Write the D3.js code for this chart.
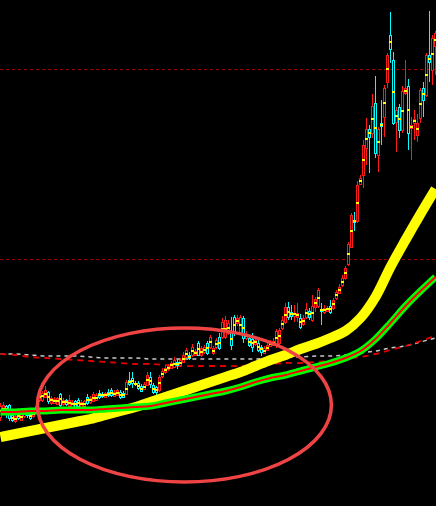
<!DOCTYPE html>
<html>
<head>
<meta charset="utf-8">
<script src="https://cdn.jsdelivr.net/npm/d3@7"></script>
<style>
  html, body { margin: 0; padding: 0; background: #000; overflow: hidden; }
  svg { display: block; }
</style>
</head>
<body>
<div id="vis"></div>
<script>
// candles, one per bar (prices)
var kOpen = [
  9.2, 9.7, 10.3, 10.4, 9.4, 8.8, 9.5, 8.9, 9.3, 9.8,
  9.5, 9.3, 9.6, 10.9, 10.9, 11.2, 11.7, 10.6, 10.6, 10.5,
  11.5, 10.5, 10.9, 10.3, 10.2, 10.8, 10.9, 10.2, 10.3, 11.2,
  10.7, 10.8, 10.9, 11.6, 11.5, 11.2, 11.7, 11.9, 11.3, 11.4,
  11.7, 11.6, 11.5, 12.9, 13.1, 12.6, 12.6, 12.3, 12.0, 12.4,
  13.2, 12.4, 12.2, 11.9, 13.3, 13.7, 14.0, 14.1, 14.2, 14.7,
  14.4, 14.7, 15.2, 15.4, 15.4, 15.4, 16.6, 15.4, 15.7, 16.6,
  16.2, 15.6, 16.2, 17.2, 17.2, 17.2, 17.6, 17.7, 19.2, 18.6,
  17.6, 19.1, 17.1, 17.1, 17.0, 16.5, 16.6, 16.2, 15.6, 15.9,
  16.3, 16.4, 16.5, 16.6, 18.1, 18.7, 20.2, 19.7, 19.3, 19.2,
  19.1, 18.5, 19.2, 19.8, 18.9, 20.2, 20.3, 20.0, 19.7, 19.8,
  20.3, 20.1, 21.1, 21.6, 22.4, 23.1, 24.5, 26.2, 28.9, 28.8,
  32.5, 33.4, 36.1, 38.0, 37.6, 40.6, 35.4, 38.6, 39.2, 42.7,
  47.4, 44.9, 38.7, 40.2, 37.9, 41.6, 42.3, 38.1, 38.6, 37.4,
  39.1, 42.1, 41.4, 45.4, 43.9, 46.3
];
var kHigh = [
  10.6, 10.7, 10.4, 10.5, 9.6, 9.5, 9.7, 9.7, 10.0, 10.0,
  9.7, 9.9, 10.5, 11.9, 11.8, 12.3, 11.8, 11.3, 11.2, 11.2,
  11.6, 11.1, 11.0, 11.4, 10.9, 10.9, 11.1, 10.9, 10.9, 11.5,
  11.3, 11.7, 11.6, 11.9, 11.7, 11.7, 12.0, 12.1, 11.9, 12.0,
  11.9, 11.8, 12.9, 13.7, 13.7, 12.8, 12.8, 12.5, 12.7, 13.7,
  13.7, 12.6, 12.3, 13.4, 14.1, 14.3, 14.5, 14.8, 15.2, 15.0,
  15.1, 15.7, 16.1, 15.7, 16.5, 16.0, 16.8, 16.3, 16.4, 16.8,
  17.4, 16.3, 17.1, 17.6, 19.1, 19.3, 18.9, 19.2, 19.4, 19.4,
  19.4, 19.3, 17.8, 17.4, 17.6, 17.1, 16.9, 16.4, 16.3, 16.6,
  16.9, 17.1, 18.0, 18.1, 19.3, 20.6, 20.7, 20.4, 20.4, 20.6,
  19.5, 19.4, 20.6, 20.1, 21.4, 21.2, 22.1, 20.6, 20.4, 20.3,
  20.9, 21.1, 21.9, 22.5, 23.4, 24.3, 26.7, 29.6, 29.7, 32.8,
  33.4, 36.9, 39.1, 38.4, 41.5, 43.3, 38.2, 40.9, 42.4, 45.6,
  49.7, 45.7, 40.2, 40.5, 42.3, 44.9, 43.0, 39.2, 39.9, 39.5,
  42.1, 42.7, 45.6, 49.8, 47.4, 47.8
];
var kLow = [
  8.8, 9.5, 9.1, 8.8, 8.7, 8.6, 8.9, 8.8, 9.1, 9.1,
  8.9, 9.1, 9.5, 10.7, 10.7, 11.1, 10.5, 10.4, 10.5, 10.4,
  10.2, 10.3, 10.3, 10.2, 10.1, 10.0, 10.0, 10.1, 10.1, 10.4,
  10.5, 10.7, 10.8, 11.0, 11.1, 11.1, 11.2, 11.2, 11.2, 11.3,
  11.0, 11.1, 11.4, 12.3, 12.1, 12.3, 11.9, 11.7, 11.9, 12.3,
  12.1, 11.5, 11.4, 11.7, 13.1, 13.5, 13.8, 14.0, 14.1, 14.0,
  14.2, 14.6, 15.1, 14.9, 15.2, 15.3, 15.3, 15.2, 15.5, 15.4,
  16.0, 15.4, 16.0, 15.9, 17.0, 17.0, 17.4, 15.9, 17.3, 18.3,
  17.4, 16.6, 16.9, 16.2, 15.7, 16.3, 15.7, 15.3, 15.5, 15.8,
  16.2, 16.3, 16.1, 16.1, 17.9, 18.5, 18.9, 18.9, 18.7, 18.7,
  18.0, 18.3, 19.0, 18.9, 18.7, 19.7, 20.1, 18.4, 19.5, 19.7,
  19.5, 19.9, 20.9, 21.5, 22.2, 22.9, 24.3, 26.1, 27.8, 28.6,
  32.4, 32.1, 34.4, 33.6, 37.1, 35.1, 33.7, 36.4, 37.2, 42.1,
  44.6, 38.4, 35.7, 37.1, 37.6, 41.4, 35.9, 34.9, 36.9, 36.7,
  38.6, 39.2, 41.2, 42.7, 42.4, 43.4
];
var kClose = [
  10.3, 10.4, 9.7, 9.1, 8.9, 9.3, 9.1, 9.5, 9.8, 9.4,
  9.1, 9.7, 10.3, 11.5, 11.6, 11.9, 10.8, 11.1, 11.0, 11.1,
  10.4, 10.9, 10.5, 10.9, 10.7, 10.2, 10.3, 10.7, 10.8, 10.6,
  11.1, 11.5, 11.4, 11.2, 11.3, 11.6, 11.4, 11.4, 11.7, 11.9,
  11.2, 11.2, 12.7, 12.5, 12.6, 12.5, 12.1, 11.8, 12.5, 13.4,
  12.5, 11.7, 11.7, 13.2, 13.8, 14.1, 14.3, 14.6, 14.9, 14.4,
  14.9, 15.4, 15.9, 15.1, 16.2, 15.8, 15.4, 16.1, 16.2, 15.6,
  17.2, 16.1, 16.9, 16.1, 18.7, 18.9, 18.6, 16.4, 17.6, 19.1,
  19.2, 17.1, 17.5, 16.4, 16.2, 16.9, 15.9, 15.7, 16.1, 16.4,
  16.7, 16.8, 17.8, 17.9, 18.9, 20.2, 19.2, 19.3, 19.6, 19.6,
  18.2, 19.1, 20.0, 19.2, 20.3, 21.0, 21.9, 19.8, 20.1, 20.1,
  19.7, 20.9, 21.7, 22.2, 23.1, 24.1, 26.5, 29.4, 28.7, 32.4,
  33.1, 36.4, 38.0, 37.2, 40.3, 35.6, 38.0, 38.3, 42.1, 45.4,
  46.0, 38.6, 39.9, 37.9, 41.8, 42.1, 37.6, 38.4, 39.0, 38.6,
  41.9, 40.9, 45.4, 44.7, 47.1, 47.6
];
// average price tick drawn on each candle
var kAvg = [
  9.8, 10.0, 10.0, 9.8, 9.1, 9.0, 9.3, 9.2, 9.6, 9.6,
  9.3, 9.5, 10.0, 11.2, 11.3, 11.5, 11.2, 10.9, 10.8, 10.8,
  11.0, 10.7, 10.7, 10.6, 10.5, 10.5, 10.6, 10.5, 10.5, 10.9,
  10.9, 11.1, 11.1, 11.4, 11.4, 11.4, 11.5, 11.6, 11.5, 11.6,
  11.4, 11.4, 12.0, 12.7, 12.8, 12.5, 12.3, 12.0, 12.2, 12.9,
  12.8, 12.0, 11.9, 12.6, 13.5, 13.9, 14.1, 14.4, 14.5, 14.5,
  14.6, 15.0, 15.5, 15.2, 15.8, 15.6, 16.0, 15.7, 15.9, 16.1,
  16.7, 15.8, 16.5, 16.6, 18.0, 18.0, 18.1, 17.0, 18.4, 18.8,
  18.4, 18.1, 17.3, 16.7, 16.6, 16.7, 16.2, 16.0, 15.8, 16.1,
  16.5, 16.6, 17.1, 17.3, 18.5, 19.4, 19.7, 19.5, 19.5, 19.4,
  18.7, 18.8, 19.6, 19.5, 19.6, 20.6, 21.1, 19.9, 19.9, 20.0,
  20.0, 20.5, 21.4, 21.9, 22.7, 23.6, 25.5, 27.8, 28.8, 30.6,
  32.8, 34.9, 37.0, 37.6, 39.0, 38.1, 36.7, 38.4, 40.6, 44.0,
  46.7, 41.7, 39.3, 39.0, 39.8, 41.8, 39.9, 38.2, 38.8, 38.0,
  40.5, 41.5, 43.4, 45.0, 45.5, 46.9
];

// indicator lines, read every 5 bars
var maIdx = [0, 5, 10, 15, 20, 25, 30, 35, 40, 45, 50, 55, 60, 65, 70,
             75, 80, 85, 90, 95, 100, 105, 110, 115, 120, 125, 130, 135, 140, 145];
var maYellow = [7.2, 7.5, 7.8, 8.1, 8.4, 8.7, 9.0, 9.4, 9.8, 10.2, 10.7, 11.2, 11.7, 12.2, 12.7,
                13.2, 13.7, 14.3, 14.9, 15.4, 16.0, 16.5, 17.1, 17.8, 19.1, 21.2, 24.2, 26.9, 29.5, 32.0];
var maGreen = [9.7, 9.7, 9.8, 9.8, 9.9, 9.9, 9.9, 10.0, 10.1, 10.2, 10.3, 10.6, 10.9, 11.2, 11.5,
               11.8, 12.2, 12.7, 13.1, 13.4, 13.8, 14.2, 14.6, 15.1, 15.8, 17.0, 18.6, 20.3, 21.8, 23.2];
var dashGray = [15.5, 15.5, 15.4, 15.3, 15.3, 15.3, 15.2, 15.1, 15.1, 15.1, 15.0, 15.0, 15.0, 15.0, 15.0,
                15.0, 15.0, 15.0, 15.1, 15.2, 15.2, 15.3, 15.3, 15.4, 15.6, 15.8, 16.1, 16.3, 16.7, 17.1];
var dashRed = [15.5, 15.4, 15.2, 15.1, 15.0, 14.9, 14.8, 14.7, 14.6, 14.5, 14.5, 14.4, 14.3, 14.3, 14.3,
               14.3, 14.3, 14.4, 14.5, 14.6, 14.6, 14.7, 14.8, 15.0, 15.2, 15.5, 15.9, 16.3, 16.8, 17.3];

var gridPrices = [25, 44];

// the hand drawn ring (bar range, price range)
var ringIdx = [12.3, 110.3];
var ringPrice = [2.7, 18.1];

var W = 436, H = 506;

var svg = d3.select("#vis")
  .append("svg")
  .attr("width", W)
  .attr("height", H)
  .style("background", "#000");

var x = d3.scaleLinear().domain([0, 145]).range([0.5, 435.5]);
var y = d3.scaleLinear().domain([0.3, 50.9]).range([H, 0]);

////////// grid //////////
svg.append("g")
  .selectAll("line")
  .data(gridPrices)
  .enter()
  .append("line")
  .attr("x1", 0)
  .attr("x2", W)
  .attr("y1", function (d) { return Math.round(y(d)) + 0.5; })
  .attr("y2", function (d) { return Math.round(y(d)) + 0.5; })
  .attr("stroke", "#9a0000")
  .attr("stroke-width", 1)
  .attr("stroke-dasharray", "3,3");

function series(vals) {
  return maIdx.map(function (d, i) { return { i: d, v: vals[i] }; });
}

var line = d3.line()
  .x(function (d) { return x(d.i); })
  .y(function (d) { return y(d.v); })
  .curve(d3.curveCatmullRom.alpha(0.5));

////////// dashed lines //////////
svg.append("path")
  .attr("d", line(series(dashGray)))
  .attr("fill", "none")
  .attr("stroke", "#c8c8c8")
  .attr("stroke-width", 1.5)
  .attr("stroke-dasharray", "4,4");

svg.append("path")
  .attr("d", line(series(dashRed)))
  .attr("fill", "none")
  .attr("stroke", "#e00000")
  .attr("stroke-width", 1.8)
  .attr("stroke-dasharray", "6,5");

////////// candles //////////
var bars = kClose.map(function (c, i) {
  return { i: i, o: kOpen[i], h: kHigh[i], l: kLow[i], c: c, a: kAvg[i] };
});
function col(d) { return d.c >= d.o ? "#ff1a1a" : "#00ffff"; }

var candle = svg.append("g")
  .attr("shape-rendering", "crispEdges")
  .selectAll("g")
  .data(bars)
  .enter()
  .append("g");

candle.append("line")
  .attr("x1", function (d) { return x(d.i); })
  .attr("x2", function (d) { return x(d.i); })
  .attr("y1", function (d) { return y(d.h); })
  .attr("y2", function (d) { return y(d.l); })
  .attr("stroke", col);

candle.append("rect")
  .attr("x", function (d) { return x(d.i) - 1; })
  .attr("y", function (d) { return y(Math.max(d.o, d.c)); })
  .attr("width", 2)
  .attr("height", function (d) { return Math.max(1, Math.abs(y(d.o) - y(d.c))); })
  .attr("fill", "#000")
  .attr("stroke", col);

candle.append("line")
  .attr("x1", function (d) { return x(d.i) - 1.5; })
  .attr("x2", function (d) { return x(d.i) + 1.5; })
  .attr("y1", function (d) { return Math.round(y(d.a)); })
  .attr("y2", function (d) { return Math.round(y(d.a)); })
  .attr("stroke", "#ffff00")
  .attr("stroke-width", 2);

////////// moving averages //////////
svg.append("path")
  .attr("d", line(series(maYellow)))
  .attr("fill", "none")
  .attr("stroke", "#ffff00")
  .attr("stroke-width", 10);

svg.append("path")
  .attr("d", line(series(maGreen)))
  .attr("fill", "none")
  .attr("stroke", "#00ff00")
  .attr("stroke-width", 7);

svg.append("path")
  .attr("d", line(series(maGreen)))
  .attr("fill", "none")
  .attr("stroke", "#ff0000")
  .attr("stroke-width", 2);

////////// ring //////////
svg.append("ellipse")
  .attr("cx", (x(ringIdx[0]) + x(ringIdx[1])) / 2)
  .attr("cy", (y(ringPrice[0]) + y(ringPrice[1])) / 2)
  .attr("rx", (x(ringIdx[1]) - x(ringIdx[0])) / 2)
  .attr("ry", (y(ringPrice[0]) - y(ringPrice[1])) / 2)
  .attr("fill", "none")
  .attr("stroke", "#f04444")
  .attr("stroke-width", 3.5);
</script>
</body>
</html>
